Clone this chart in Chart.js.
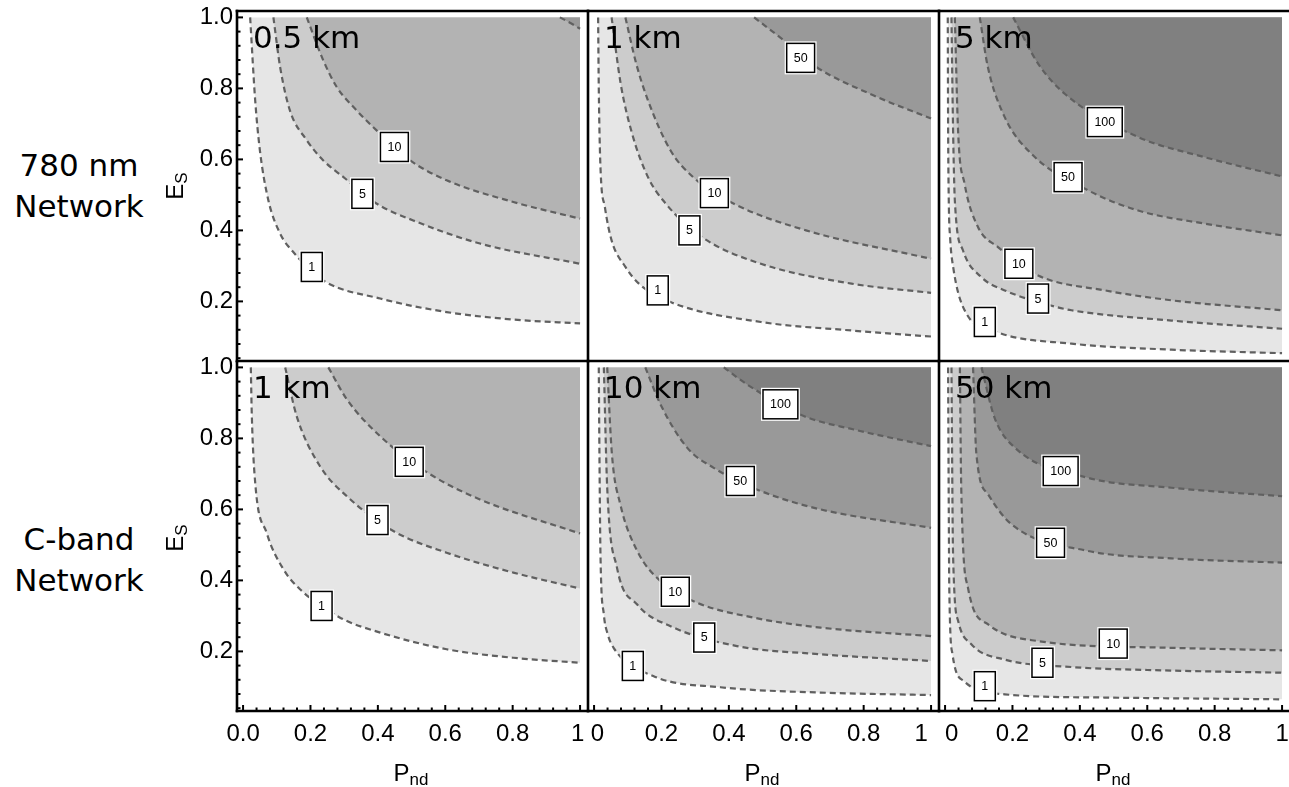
<!DOCTYPE html>
<html>
<head>
<meta charset="utf-8">
<script src="https://cdn.jsdelivr.net/npm/chart.js@4.4.1/dist/chart.umd.min.js"></script>
<style>
  html, body { margin: 0; padding: 0; background: #fff; }
  body { width: 1289px; height: 787px; position: relative; overflow: hidden; }
  .panel { position: absolute; }
  .row-label { position: absolute; left: 0; width: 158px; text-align: center;
               font: 31px "DejaVu Sans", sans-serif; line-height: 41px; color: #000; }
  .ax-title { position: absolute; font: 24px "Liberation Sans", Arial, sans-serif; line-height: 1.15;
              color: #000; white-space: nowrap; transform: translate(-50%, -50%); }
  .ax-title.rot { transform: translate(-50%, -50%) rotate(-90deg); }
  .ax-title span { font-size: 17px; position: relative; top: 4px; }
</style>
</head>
<body>
<script>
// contour levels and the shade used above each one
const contourLevels = [1, 5, 10, 50, 100];
const levelShades = ['#e6e6e6', '#cccccc', '#b3b3b3', '#999999', '#808080'];

// axis ticks (the panel-edge labels are nudged apart like in the original)
const xTicks = [0, 0.2, 0.4, 0.6, 0.8, 1];
const xTickLabelsLeft = ['0.0', '0.2', '0.4', '0.6', '0.8', '1\u2009'];
const xTickLabelsMid = [' 0', '0.2', '0.4', '0.6', '0.8', '1   '];
const xTickLabelsRight = ['  0', '0.2', '0.4', '0.6', '0.8', '1'];
const yTicks = [0.2, 0.4, 0.6, 0.8, 1.0];
const yTickLabels = ['0.2', '0.4', '0.6', '0.8', '1.0'];

const panelTitles = ['0.5 km', '1 km', '5 km', '1 km', '10 km', '50 km'];
const rowLabels = [['780 nm', 'Network'], ['C-band', 'Network']];

// contour lines, [P_nd, E_S]
// 780 nm, 0.5 km
const km05_c1 = [[0.021,1.0],[0.036,0.766],[0.05,0.625],[0.075,0.485],[0.11,0.391],[0.149,0.339],[0.238,0.259],[0.407,0.208],[0.604,0.17],[0.8,0.149],[1.0,0.138]];
const km05_c5 = [[0.09,1.0],[0.11,0.86],[0.139,0.738],[0.189,0.654],[0.238,0.597],[0.298,0.55],[0.397,0.475],[0.505,0.428],[0.703,0.363],[1.0,0.306]];
const km05_c10 = [[0.189,1.0],[0.238,0.879],[0.278,0.804],[0.337,0.738],[0.407,0.672],[0.496,0.597],[0.604,0.541],[0.802,0.48],[1.0,0.433]];
const km05_c50 = [[0.94,1.0],[0.97,0.985],[1.0,0.968]];
const km05_tags = [[1,0.204,0.297],[5,0.354,0.503],[10,0.449,0.635]];

// 780 nm, 1 km
const km1_c1 = [[0.012,1.0],[0.014,0.8],[0.019,0.578],[0.032,0.466],[0.052,0.372],[0.093,0.297],[0.133,0.25],[0.227,0.198],[0.495,0.142],[0.764,0.118],[1.0,0.101]];
const km1_c5 = [[0.052,1.0],[0.079,0.813],[0.113,0.672],[0.16,0.55],[0.213,0.475],[0.32,0.381],[0.495,0.306],[0.764,0.25],[1.0,0.224]];
const km1_c10 = [[0.093,1.0],[0.125,0.87],[0.16,0.766],[0.227,0.625],[0.294,0.55],[0.415,0.475],[0.629,0.4],[1.0,0.32]];
const km1_c50 = [[0.475,1.0],[0.57,0.93],[0.66,0.86],[0.83,0.78],[1.0,0.715]];
const km1_tags = [[1,0.189,0.231],[5,0.283,0.40],[10,0.357,0.505],[50,0.613,0.886]];

// 780 nm, 5 km
const km5_c1 = [[0.008,1.0],[0.009,0.7],[0.011,0.484],[0.015,0.38],[0.024,0.297],[0.058,0.175],[0.152,0.114],[0.375,0.081],[0.672,0.064],[1.0,0.054]];
const km5_c5 = [[0.019,1.0],[0.024,0.672],[0.029,0.484],[0.053,0.344],[0.108,0.268],[0.177,0.231],[0.311,0.189],[0.375,0.175],[0.672,0.146],[1.0,0.123]];
const km5_c10 = [[0.029,1.0],[0.039,0.672],[0.058,0.531],[0.098,0.409],[0.157,0.353],[0.276,0.273],[0.474,0.231],[0.672,0.203],[1.0,0.175]];
const km5_c50 = [[0.103,1.0],[0.127,0.86],[0.177,0.719],[0.256,0.616],[0.424,0.513],[0.573,0.456],[0.771,0.419],[1.0,0.386]];
const km5_c100 = [[0.202,1.0],[0.276,0.87],[0.355,0.785],[0.573,0.663],[0.771,0.606],[1.0,0.552]];
const km5_tags = [[1,0.118,0.142],[5,0.276,0.208],[10,0.219,0.306],[50,0.365,0.55],[100,0.474,0.705]];

// C-band, 1 km
const cb1_c1 = [[0.023,1.0],[0.026,0.863],[0.036,0.675],[0.07,0.534],[0.12,0.431],[0.169,0.375],[0.288,0.295],[0.407,0.253],[0.604,0.206],[0.802,0.182],[1.0,0.168]];
const cb1_c5 = [[0.125,1.0],[0.159,0.863],[0.228,0.722],[0.308,0.637],[0.446,0.539],[0.604,0.478],[0.802,0.422],[1.0,0.377]];
const cb1_c10 = [[0.253,1.0],[0.308,0.91],[0.407,0.806],[0.555,0.699],[0.703,0.628],[1.0,0.532]];
const cb1_tags = [[1,0.233,0.328],[5,0.399,0.57],[10,0.493,0.734]];

// C-band, 10 km
const cb10_c1 = [[0.014,1.0],[0.016,0.75],[0.019,0.473],[0.029,0.304],[0.04,0.25],[0.058,0.21],[0.177,0.13],[0.375,0.099],[0.672,0.084],[1.0,0.077]];
const cb10_c5 = [[0.029,1.0],[0.039,0.661],[0.068,0.436],[0.128,0.332],[0.227,0.271],[0.424,0.215],[0.672,0.192],[1.0,0.173]];
const cb10_c10 = [[0.039,1.0],[0.053,0.755],[0.078,0.614],[0.128,0.483],[0.197,0.398],[0.306,0.337],[0.474,0.295],[0.672,0.267],[1.0,0.243]];
const cb10_c50 = [[0.152,1.0],[0.197,0.896],[0.276,0.774],[0.355,0.717],[0.494,0.652],[0.672,0.6],[1.0,0.548]];
const cb10_c100 = [[0.385,1.0],[0.454,0.952],[0.622,0.863],[0.771,0.825],[1.0,0.778]];
const cb10_tags = [[1,0.115,0.159],[5,0.327,0.239],[10,0.241,0.368],[50,0.434,0.68],[100,0.553,0.896]];

// C-band, 50 km
const cb50_c1 = [[0.009,1.0],[0.011,0.6],[0.0125,0.379],[0.022,0.192],[0.056,0.116],[0.177,0.079],[0.474,0.07],[1.0,0.065]];
const cb50_c5 = [[0.019,1.0],[0.0237,0.473],[0.039,0.285],[0.078,0.22],[0.177,0.177],[0.375,0.156],[0.672,0.146],[1.0,0.14]];
const cb50_c10 = [[0.044,1.0],[0.048,0.661],[0.068,0.379],[0.128,0.276],[0.276,0.229],[0.672,0.21],[1.0,0.203]];
const cb50_c50 = [[0.083,1.0],[0.093,0.755],[0.128,0.642],[0.197,0.558],[0.424,0.483],[0.672,0.462],[1.0,0.45]];
const cb50_c100 = [[0.108,1.0],[0.147,0.858],[0.207,0.774],[0.424,0.689],[0.672,0.661],[1.0,0.637]];
const cb50_tags = [[1,0.118,0.102],[5,0.289,0.168],[10,0.499,0.222],[50,0.313,0.506],[100,0.343,0.708]];

const panelLines = [
    [km05_c1, km05_c5, km05_c10, km05_c50],
    [km1_c1, km1_c5, km1_c10, km1_c50],
    [km5_c1, km5_c5, km5_c10, km5_c50, km5_c100],
    [cb1_c1, cb1_c5, cb1_c10],
    [cb10_c1, cb10_c5, cb10_c10, cb10_c50, cb10_c100],
    [cb50_c1, cb50_c5, cb50_c10, cb50_c50, cb50_c100]
];
const panelTags = [km05_tags, km1_tags, km5_tags, cb1_tags, cb10_tags, cb50_tags];
const columnXLabels = [xTickLabelsLeft, xTickLabelsMid, xTickLabelsRight];

// layout of the grid
const plotLeft = 237, plotTop = 11, colW = 351, rowH = 350;
const xMin = -0.018, xMax = xMin + colW / 337;
const yMax = 1.018, yMin = yMax - rowH / 355;
const tickFont = { size: 24, family: '"Liberation Sans", Arial, sans-serif' };

const deco = {
    id: 'deco',
    afterDatasetsDraw(chart, args, o) {
        const ctx = chart.ctx, a = chart.chartArea;
        const xs = chart.scales.x, ys = chart.scales.y;
        ctx.save();
        ctx.font = '12.5px "Liberation Sans", Arial, sans-serif';
        ctx.textAlign = 'center';
        ctx.textBaseline = 'middle';
        o.tags.forEach(([lv, x, y]) => {
            const px = xs.getPixelForValue(x), py = ys.getPixelForValue(y);
            const txt = String(lv);
            const w = Math.max(20, ctx.measureText(txt).width + 14), h = 29;
            ctx.fillStyle = '#fff';
            ctx.fillRect(px - w / 2 - 2, py - h / 2 - 2, w + 4, h + 4);
            ctx.strokeStyle = '#000';
            ctx.lineWidth = 1.5;
            ctx.strokeRect(px - w / 2, py - h / 2, w, h);
            ctx.fillStyle = '#000';
            ctx.fillText(txt, px, py + 0.5);
        });
        ctx.font = '31px "DejaVu Sans", sans-serif';
        ctx.textAlign = 'left';
        ctx.textBaseline = 'alphabetic';
        ctx.fillText(o.title, a.left + 16, a.top + 37);
        ctx.restore();
    },
    afterDraw(chart, args, o) {
        const ctx = chart.ctx, a = chart.chartArea;
        const xs = chart.scales.x, ys = chart.scales.y;
        const seg = (x1, y1, x2, y2) => { ctx.beginPath(); ctx.moveTo(x1, y1); ctx.lineTo(x2, y2); ctx.stroke(); };
        ctx.save();
        ctx.strokeStyle = '#000';
        ctx.lineWidth = 2;
        // inward ticks, minor every 0.04
        for (let k = 0; k <= 25; k++) {
            const len = k % 5 === 0 ? 6 : 3.5;
            if (o.yAxis && k > 0) {
                const p = ys.getPixelForValue(k * 0.04);
                seg(a.left, p, a.left + len, p);
            }
            if (o.xAxis) {
                const p = xs.getPixelForValue(k * 0.04);
                seg(p, a.bottom, p, a.bottom - len);
            }
        }
        ctx.lineWidth = 2.6;
        seg(a.left, a.top - (o.top ? 1.3 : 0), a.left, a.bottom + 1.3);
        seg(a.left - 1.3, a.bottom, a.right + 1.3, a.bottom);
        if (o.top) seg(a.left - 1.3, a.top, a.right + 1.3, a.top);
        ctx.restore();
    }
};

function addPanel(idx) {
    const r = Math.floor(idx / 3), c = idx % 3;
    const showX = r === 1, showY = c === 0;
    const padL = showY ? 60 : 20, padB = showX ? 60 : 20;
    const W = colW + padL + 20, H = rowH + 20 + padB;
    const box = document.createElement('div');
    box.className = 'panel';
    box.style.left = (plotLeft + colW * c - padL) + 'px';
    box.style.top = (plotTop + rowH * r - 20) + 'px';
    const cv = document.createElement('canvas');
    cv.width = W; cv.height = H;
    box.appendChild(cv);
    document.body.appendChild(box);

    const lines = panelLines[idx];
    const datasets = [];
    for (let i = lines.length - 1; i >= 0; i--) {
        datasets.push({
            data: lines[i].map(([x, y]) => ({ x, y })),
            borderColor: '#606060',
            borderWidth: 2.2,
            borderDash: [6, 4],
            pointRadius: 0,
            cubicInterpolationMode: 'monotone',
            fill: { value: 1.0 },
            backgroundColor: levelShades[i]
        });
    }
    const xLabels = columnXLabels[c];

    new Chart(cv, {
        type: 'line',
        data: { datasets },
        options: {
            responsive: false,
            animation: false,
            events: [],
            layout: { padding: { left: showY ? 0 : 20, right: 20, top: 20, bottom: showX ? 0 : 20 } },
            plugins: {
                legend: { display: false },
                tooltip: { enabled: false },
                filler: { drawTime: 'beforeDatasetsDraw' },
                deco: { title: panelTitles[idx], tags: panelTags[idx], xAxis: showX, yAxis: showY, top: r === 0 }
            },
            scales: {
                x: {
                    type: 'linear', min: xMin, max: xMax,
                    display: showX,
                    afterFit: s => { s.height = showX ? 60 : 0; },
                    afterBuildTicks: s => { s.ticks = xTicks.map(v => ({ value: v })); },
                    grid: { display: false, drawTicks: false },
                    border: { display: false },
                    ticks: { font: tickFont, color: '#000', padding: 9, autoSkip: false, maxRotation: 0,
                             callback: (v, i) => xLabels[i] }
                },
                y: {
                    type: 'linear', min: yMin, max: yMax,
                    display: showY,
                    afterFit: s => { s.width = showY ? 60 : 0; },
                    afterBuildTicks: s => { s.ticks = yTicks.map(v => ({ value: v })); },
                    grid: { display: false, drawTicks: false },
                    border: { display: false },
                    ticks: { font: tickFont, color: '#000', padding: 4, autoSkip: false,
                             callback: (v, i) => yTickLabels[i] }
                }
            }
        },
        plugins: [deco]
    });
}

for (let i = 0; i < 6; i++) addPanel(i);

// row labels and axis titles
const rowCenters = [186, 560];
const esCenters = [186, 538];
rowLabels.forEach((lines, r) => {
    const d = document.createElement('div');
    d.className = 'row-label';
    d.style.top = (rowCenters[r] - 41) + 'px';
    d.innerHTML = lines.join('<br>');
    document.body.appendChild(d);

    const e = document.createElement('div');
    e.className = 'ax-title rot';
    e.style.left = '175px';
    e.style.top = esCenters[r] + 'px';
    e.innerHTML = 'E<span>S</span>';
    document.body.appendChild(e);
});
for (let c = 0; c < 3; c++) {
    const p = document.createElement('div');
    p.className = 'ax-title';
    p.style.left = (plotLeft + 6 + 168 + colW * c) + 'px';
    p.style.top = '773px';
    p.innerHTML = 'P<span>nd</span>';
    document.body.appendChild(p);
}
</script>
</body>
</html>
